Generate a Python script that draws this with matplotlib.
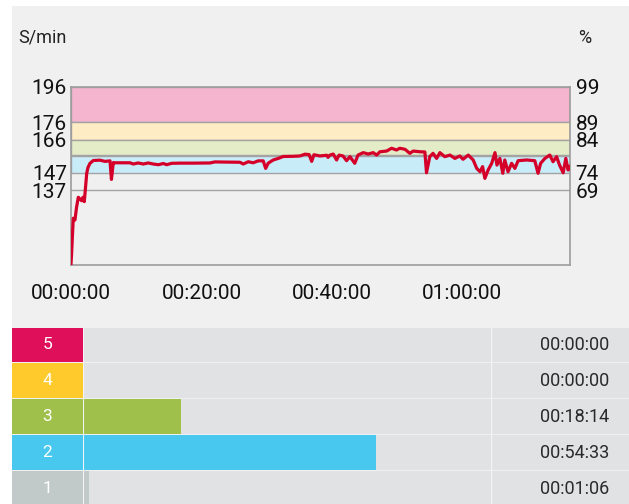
import matplotlib
matplotlib.use("Agg")
import matplotlib.pyplot as plt
from matplotlib.patches import Rectangle

# heart rate trace: elapsed minutes and strokes per minute
time_min = [0.0, 0.08, 0.23, 0.35, 0.61, 0.84, 1.12, 1.38, 1.64, 1.84, 2.04, 2.41, 2.6, 2.91,
            3.42, 4.44, 5.2, 5.98, 6.2, 6.48, 6.74, 9.04, 9.55, 10.3, 11.08, 11.85, 12.6, 13.4,
            14.15, 14.67, 15.43, 16.7, 18.75, 21.3, 22.07, 23.86, 25.9, 26.4, 27.17, 27.94, 28.7,
            29.47, 29.84, 30.24, 31.0, 31.77, 32.54, 34.07, 35.1, 35.86, 36.5, 36.9, 37.24, 38.16,
            39.2, 39.4, 39.7, 40.2, 40.72, 41.1, 41.7, 42.25, 42.76, 43.5, 44.0, 44.8, 45.56,
            46.33, 46.85, 47.36, 48.38, 49.15, 49.9, 50.4, 51.2, 51.95, 52.46, 53.5, 54.25, 54.5,
            55.0, 55.5, 56.05, 56.55, 57.3, 58.1, 58.85, 59.6, 60.1, 60.9, 61.66, 62.2, 62.7,
            63.1, 63.45, 63.95, 64.5, 65.0, 65.3, 65.75, 66.2, 66.5, 67.0, 67.55, 68.05, 68.55,
            69.84, 71.1, 71.6, 72.0, 72.65, 73.4, 73.9, 74.44, 74.9, 75.45, 75.86, 76.2, 76.45]
hr = [95, 100, 112, 121, 120, 127, 133, 132, 131, 133, 130.5, 146.7, 150, 152.4,
      154, 154.2, 153.5, 153.8, 143.2, 152.8, 152.7, 152.7, 152.0, 152.6, 152.0, 152.6, 152.0, 151.6,
      152.3, 151.6, 152.4, 152.5, 152.5, 152.6, 153.2, 153.1, 153.0, 152.0, 153.3, 152.7, 153.8,
      153.8, 149.5, 152.5, 154.3, 155.2, 156.3, 156.4, 156.6, 157.6, 157.4, 153.5, 157.3, 156.6,
      157.0, 155.8, 157.1, 157.7, 154.3, 157.1, 156.6, 153.9, 156.2, 152.4, 157.1, 158.5, 157.7,
      158.5, 157.1, 159.0, 159.4, 161.0, 160.0, 161.0, 160.4, 158.1, 159.4, 159.0, 158.9, 147.0,
      156.2, 158.1, 155.2, 158.5, 156.2, 157.1, 155.2, 156.6, 154.7, 157.1, 154.3, 149.5, 147.6,
      150.5, 143.8, 148.6, 152.4, 158.5, 151.4, 155.2, 146.7, 154.3, 147.6, 152.4, 149.5, 153.9,
      154.3, 153.9, 146.7, 152.4, 155.2, 157.1, 153.3, 156.2, 151.4, 147.0, 155.2, 148.6, 150.5]

hr_ticks = [196, 176, 166, 147, 137]
pct_ticks = [99, 89, 84, 74, 69]
time_ticks = [0, 20, 40, 60]
time_labels = ["00:00:00", "00:20:00", "00:40:00", "01:00:00"]

# zone bands on the chart (5, 4, 3, 2)
band_low = [176, 166, 157.4, 147]
band_high = [196, 176, 166, 156.5]

# time in zone table
zones = ["5", "4", "3", "2", "1"]
zone_seconds = [0, 0, 1094, 3273, 66]

band_colors = ["#f5b5cf", "#feedc4", "#e3ecc7", "#c9ecf9"]
zone_colors = ["#df0f5a", "#ffca2c", "#9fc04b", "#48c8ef", "#c2cac9"]
GRID = "#a3a3a3"
PANEL = "#f0f0f0"
ROW_BG = "#e1e2e4"

plt.rcParams["font.family"] = ["Roboto", "DejaVu Sans"]

W, H = 629, 504
fig = plt.figure(figsize=(W / 100, H / 100), dpi=100)
fig.patches.append(Rectangle((12 / W, 0), 617 / W, 498 / H, transform=fig.transFigure,
                             facecolor=PANEL, edgecolor="none", zorder=-1))

# --- heart rate chart ---
ax = fig.add_axes([71 / W, (H - 265) / H, 499 / W, 178 / H])
ax.set_facecolor("none")
ax.set_xlim(0, 76.5)
ax.set_ylim(94.3, 196)
for lo, hi, c in zip(band_low, band_high, band_colors):
    ax.axhspan(lo, hi, facecolor=c, edgecolor=GRID, lw=1.0, zorder=1)
ax.axhline(137, color=GRID, lw=1.0, zorder=1)
ax.plot(time_min, hr, color="#d4002a", lw=2.3, zorder=3)

for s in ax.spines.values():
    s.set_color("#9c9c9c")
    s.set_linewidth(1.2)
ax.set_yticks(hr_ticks, [str(v) for v in hr_ticks])
ax.set_xticks(time_ticks, time_labels)
ax.tick_params(axis="y", length=0, labelsize=15, pad=3, labelcolor="#111111")
ax.tick_params(axis="x", length=0, labelsize=15, pad=14, labelcolor="#111111")

ax2 = ax.twinx()
ax2.set_ylim(ax.get_ylim())
ax2.set_yticks(hr_ticks, [str(p) for p in pct_ticks])
ax2.tick_params(axis="y", length=0, labelsize=15, pad=4, labelcolor="#111111")
for s in ax2.spines.values():
    s.set_visible(False)

fig.text(18 / W, 1 - 38 / H, "S/min", va="center", ha="left", fontsize=13, color="#222222")
fig.text(578 / W, 1 - 38 / H, "%", va="center", ha="left", fontsize=13, color="#222222")

# --- time in zone table ---
ypos = [4, 3, 2, 1, 0]
row_h = 35 / 36
tab_h = 176.5 / H
bar_max = 4560

ax_lbl = fig.add_axes([12 / W, 0, 71 / W, tab_h])
ax_bar = fig.add_axes([83 / W, 0, 408 / W, tab_h])
ax_time = fig.add_axes([491 / W, 0, 138 / W, tab_h])
for a in (ax_lbl, ax_bar, ax_time):
    a.set_ylim(-0.417, 4.486)
    a.axis("off")

ax_lbl.set_xlim(0, 1)
ax_lbl.barh(ypos, 1, height=row_h, color=zone_colors)
for y, z in zip(ypos, zones):
    ax_lbl.text(0.5, y, z, ha="center", va="center", color="white", fontsize=12.5)

ax_bar.set_xlim(0, bar_max)
ax_bar.barh(ypos, bar_max, height=row_h, color=ROW_BG)
ax_bar.barh(ypos, zone_seconds, height=row_h, color=zone_colors)
ax_bar.axvline(0, color="#f4f4f4", lw=0.8)

ax_time.set_xlim(0, 1)
ax_time.barh(ypos, 1, height=row_h, color=ROW_BG)
ax_time.axvline(0, color="#f4f4f4", lw=1.0)
for y, s in zip(ypos, zone_seconds):
    label = f"{s // 3600:02d}:{s % 3600 // 60:02d}:{s % 60:02d}"
    ax_time.text(118 / 138, y, label, ha="right", va="center", fontsize=13, color="#2a2a2a")

fig.savefig("out.png", dpi=100)
